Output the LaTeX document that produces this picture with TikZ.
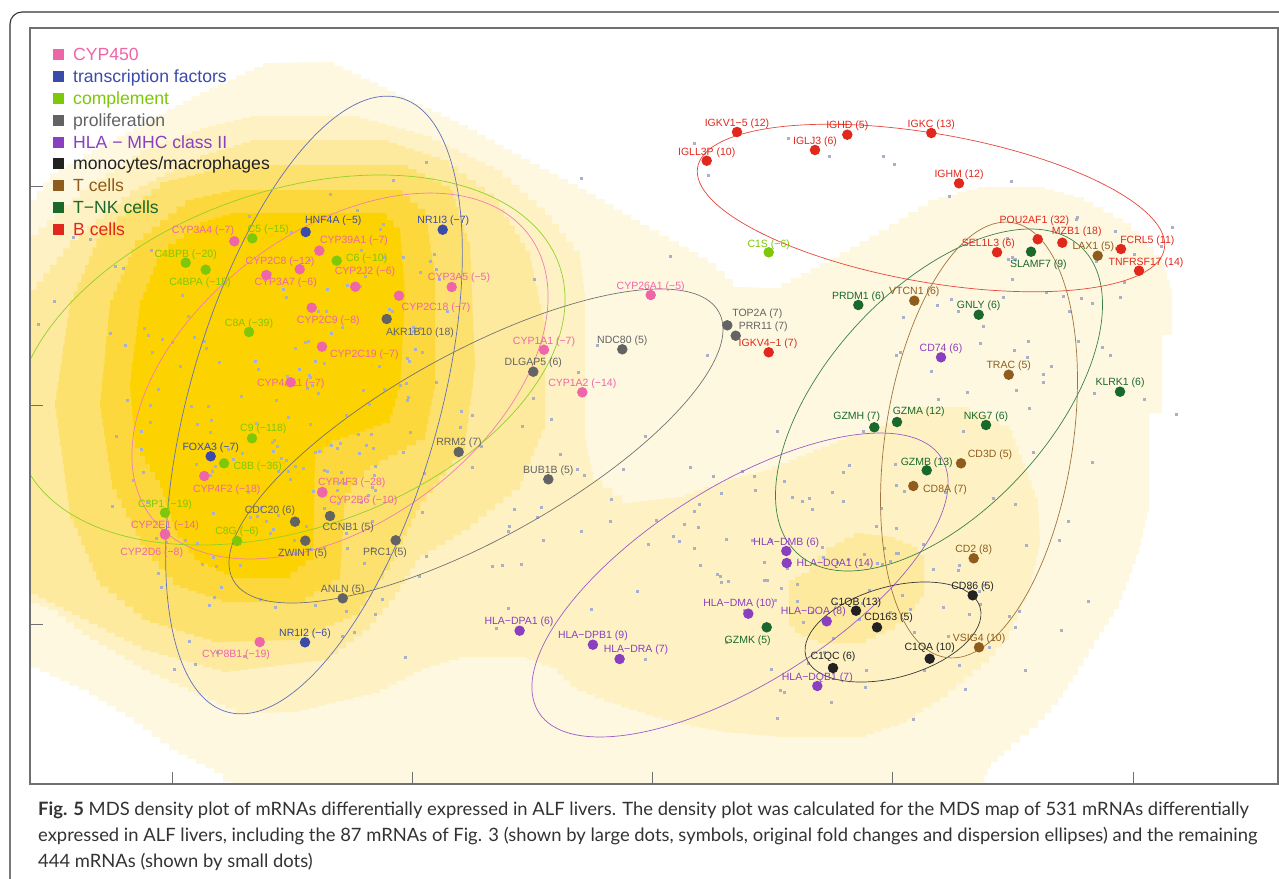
\documentclass[tikz,border=0pt]{standalone}
\usepackage{fontspec}
\setmainfont{Liberation Sans}
\newfontfamily\capfont{Lato}
\definecolor{cpink}{HTML}{EE66A8}
\definecolor{cblue}{HTML}{3B4BA9}
\definecolor{cgreen}{HTML}{7DC808}
\definecolor{cgray}{HTML}{636363}
\definecolor{cpurple}{HTML}{8A3FC0}
\definecolor{cblack}{HTML}{222222}
\definecolor{cbrown}{HTML}{8E5C1C}
\definecolor{cdkgreen}{HTML}{18692B}
\definecolor{cred}{HTML}{E0281C}
\definecolor{dA}{HTML}{FEF8E0}
\definecolor{dB}{HTML}{FEF2C4}
\definecolor{dC}{HTML}{FDEA9E}
\definecolor{dD}{HTML}{FDE16E}
\definecolor{dE}{HTML}{FCD83C}
\definecolor{dF}{HTML}{FCD200}
\definecolor{smd}{HTML}{A9B0CC}
\definecolor{capc}{HTML}{333333}
\definecolor{framec}{HTML}{707070}
\newcommand\genept[7]{%
  \node[lbl,text=#2] (l#1) at (#5,#6) {#7};
  \node[gdot,fill=#2] (d#1) at (#3,#4) {};
}
\newcommand\legitem[4]{%
  \node[lgsq,fill=#2] (sq#1) at (58.5,#3) {};
  \node[lgtxt,text=#2] (lg#1) at (73,#3) {#4};
}
\newcommand\stairfill[4]{%
  \fill[#1] (#2,#3)
  \foreach \x/\y [remember=\x as \px (initially #2), remember=\y as \py (initially #3),
      evaluate=\x as \k using {int(max(abs(\x-\px),abs(\y-\py))/10)+1}] in {#4} {
    \foreach \j [evaluate=\j as \sx using {\px+(\x-\px)*(\j/\k)},
                 evaluate=\j as \sy using {\py+(\y-\py)*(\j/\k)}] in {1,...,\k} { -| (\sx,\sy) }
  } -- cycle;
}
\begin{document}
\begin{tikzpicture}[x=1pt,y=-1pt,
  lbl/.style={font=\fontsize{10.5}{12}\selectfont, inner sep=0pt, anchor=base, yshift=-3.8pt},
  gdot/.style={circle, minimum size=10.5pt, inner sep=0pt, draw=none},
  lgsq/.style={rectangle, minimum size=11pt, inner sep=0pt, draw=none},
  lgtxt/.style={font=\fontsize{17.6}{20}\selectfont, inner sep=0pt, anchor=base west, yshift=-6pt},
  ell/.style={line width=0.7pt},
  captxt/.style={font=\capfont\fontsize{18.4}{22}\selectfont, text=capc, inner sep=0pt, anchor=base west}]
\useasboundingbox (0,0) rectangle (1279,878);
\fill[white] (0,0) rectangle (1279,878);
\begin{scope}
\clip (30,28) rectangle (1278,784);
% density levels
\stairfill{dA}{30}{200}{50/173, 100/145, 150/118, 200/92, 263/63, 326/62, 387/91, 459/125, 530/164, 587/194, 640/225, 708/263, 733/287, 772/288, 820/263, 879/230, 928/200, 977/187, 1035/187, 1074/197, 1123/223, 1162/263, 1172/297, 1172/335, 1162/335, 1162/413, 1149/414, 1149/511, 1139/555, 1129/582, 1119/609, 1099/640, 1078/675, 1058/705, 1038/728, 1011/750, 991/768, 981/790, 240/790, 223/773, 178/750, 134/717, 89/690, 30/663, 30/200}
\stairfill{dB}{30}{235}{80/190, 140/150, 200/128, 250/116, 351/116, 423/136, 494/170, 545/215, 580/260, 585/300, 585/440, 593/480, 622/503, 675/497, 724/480, 764/470, 805/453, 846/437, 887/423, 907/407, 960/407, 1009/430, 1022/463, 1038/507, 1040/547, 1030/593, 1009/640, 989/663, 948/697, 907/723, 866/737, 785/737, 730/732, 700/727, 653/715, 613/702, 577/687, 557/668, 527/657, 468/657, 430/668, 380/693, 300/712, 245/713, 150/670, 90/635, 58/610, 30/600, 30/235}
\stairfill{dC}{30}{290}{70/240, 130/190, 200/155, 250/140, 380/140, 440/160, 494/200, 530/260, 545/330, 545/430, 520/490, 470/530, 420/560, 395/600, 370/630, 330/660, 230/672, 150/650, 80/615, 30/590, 30/290}
\stairfill{dD}{70}{300}{100/230, 160/182, 230/165, 400/165, 450/190, 470/250, 475/370, 465/450, 420/510, 390/570, 360/615, 300/640, 220/642, 150/620, 100/580, 70/510, 55/400, 70/300}
\stairfill{dE}{110}{300}{135/240, 185/200, 230/190, 395/190, 425/215, 435/280, 435/390, 425/440, 370/470, 345/500, 340/580, 305/602, 230/602, 180/585, 145/545, 112/480, 100/400, 110/300}
\stairfill{dF}{140}{300}{160/250, 200/222, 230/213, 380/213, 400/235, 405/300, 400/390, 390/423, 340/440, 315/460, 313/560, 290/578, 240/578, 200/560, 177/530, 160/480, 135/440, 130/380, 140/300}
\stairfill{dC}{854}{533}{887/537, 911/547, 924/563, 924/597, 915/610, 895/630, 866/643, 826/643, 801/633, 789/620, 789/580, 801/573, 826/547, 854/533}
% small dots
\pgfmathsetseed{4217}
\foreach \n/\cx/\cy/\sx/\sy in {210/290/420/95/120, 95/880/580/95/70, 50/1030/330/70/60, 45/620/520/80/70, 10/780/200/110/55}{
  \foreach \i in {1,...,\n}{
    \pgfmathsetmacro\px{\cx+\sx*(rand+rand+rand)}
    \pgfmathsetmacro\py{\cy+\sy*(rand+rand+rand)}
    \fill[smd] (\px-1.5,\py-1.5) rectangle ++(3,3);
  }
}
% dispersion ellipses
\draw[ell,color=cpink!85] (340,376) [rotate around={36.7:(340,376)}] ellipse [x radius=235.7pt, y radius=145.6pt];
\draw[ell,color=cblue!80] (314,405) [rotate around={74.2:(314,405)}] ellipse [x radius=319pt, y radius=125pt];
\draw[ell,color=cgreen!85] (290,360) [rotate around={19.4:(290,360)}] ellipse [x radius=285.5pt, y radius=168.4pt];
\draw[ell,color=cgray!90] (476,446) [rotate around={28.9:(476,446)}] ellipse [x radius=277.4pt, y radius=93.3pt];
\draw[ell,color=cpurple!85] (740,585) [rotate around={32.3:(740,585)}] ellipse [x radius=238.2pt, y radius=98.2pt];
\draw[ell,color=cblack!90] (893,632) [rotate around={15.7:(893,632)}] ellipse [x radius=90.5pt, y radius=45.3pt];
\draw[ell,color=cred!85] (931,208) [rotate around={-9.9:(931,208)}] ellipse [x radius=236.9pt, y radius=74.3pt];
\draw[ell,color=cdkgreen!85] (939,400) [rotate around={47.3:(939,400)}] ellipse [x radius=208.8pt, y radius=111.2pt];
\draw[ell,color=cbrown!85] (979,440) [rotate around={81.35:(979,440)}] ellipse [x radius=220pt, y radius=93.8pt];
\end{scope}
% ticks and frame
\foreach \x in {172,412,652,892,1133} \draw[framec, line width=0.8pt] (\x,772) -- (\x,784);
\foreach \y in {186,405,624} \draw[framec, line width=0.8pt] (30,\y) -- (43,\y);
\draw[framec, line width=1.4pt] (30,28) rectangle (1278,784);
\draw[color=capc, line width=1.1pt, rounded corners=12pt] (10,882) -- (10,12) -- (1285,12);
% genes
\genept{CYPthreeAfour}{cpink}{234.3}{241.3}{203}{230}{CYP3A4 (−7)}
\genept{CYPthreeNineAone}{cpink}{319.3}{250.7}{354}{240}{CYP39A1 (−7)}
\genept{CYPtwoCeight}{cpink}{299.7}{269.3}{280}{260.7}{CYP2C8 (−12)}
\genept{CYPthreeAseven}{cpink}{266.3}{275}{285.7}{281.7}{CYP3A7 (−6)}
\genept{CYPtwoJtwo}{cpink}{355.3}{286.7}{365}{271}{CYP2J2 (−6)}
\genept{CYPthreeAfive}{cpink}{451.7}{287}{459}{277}{CYP3A5 (−5)}
\genept{CYPtwoCeighteen}{cpink}{399}{295.7}{436}{306.7}{CYP2C18 (−7)}
\genept{CYPtwoCnine}{cpink}{311.7}{307.7}{328.3}{319.3}{CYP2C9 (−8)}
\genept{CYPtwoCnineteen}{cpink}{322}{346.7}{364.3}{353.3}{CYP2C19 (−7)}
\genept{CYPfourAeleven}{cpink}{290.7}{382.3}{290.7}{382.7}{CYP4A11 (−7)}
\genept{CYPfourFtwo}{cpink}{204.3}{476}{226.7}{488.7}{CYP4F2 (−18)}
\genept{CYPfourFthree}{cpink}{322.3}{492}{351.7}{481.7}{CYP4F3 (−28)}
\genept{CYPtwoBsix}{cpink}{322.3}{492.5}{363.3}{499.7}{CYP2B6 (−10)}
\genept{CYPtwoEone}{cpink}{165}{534}{165}{524.3}{CYP2E1 (−14)}
\genept{CYPtwoDsix}{cpink}{165}{534.5}{151.7}{551.7}{CYP2D6 (−8)}
\genept{CYPeightBone}{cpink}{259.7}{642}{236}{653.3}{CYP8B1 (−19)}
\genept{CYPoneAone}{cpink}{544}{349.7}{544}{340.3}{CYP1A1 (−7)}
\genept{CYPoneAtwo}{cpink}{582.3}{392.3}{582.3}{382.7}{CYP1A2 (−14)}
\genept{CYPtwoSixAone}{cpink}{650.7}{295}{650.7}{285.3}{CYP26A1 (−5)}
\genept{HNFfourA}{cblue}{305.7}{232}{333.3}{220}{HNF4A (−5)}
\genept{NRoneIthree}{cblue}{442.7}{229.7}{443.3}{220}{NR1I3 (−7)}
\genept{FOXAthree}{cblue}{210.7}{456.3}{210.7}{446.7}{FOXA3 (−7)}
\genept{NRoneItwo}{cblue}{305}{642.3}{305}{632.7}{NR1I2 (−6)}
\genept{Cfive}{cgreen}{252.3}{238.3}{268.3}{228.3}{C5 (−15)}
\genept{CfourBPB}{cgreen}{185.7}{262.7}{185.7}{253.3}{C4BPB (−20)}
\genept{Csix}{cgreen}{336.7}{260.7}{366.7}{257.3}{C6 (−10)}
\genept{CfourBPA}{cgreen}{205.7}{269.7}{200}{281.7}{C4BPA (−18)}
\genept{CeightA}{cgreen}{249}{332}{249}{322.7}{C8A (−39)}
\genept{Cnine}{cgreen}{252}{438.3}{263.3}{427.7}{C9 (−118)}
\genept{CeightB}{cgreen}{224}{463.3}{257.7}{465.7}{C8B (−36)}
\genept{CthreePone}{cgreen}{165}{512.7}{165}{503.3}{C3P1 (−19)}
\genept{CeightG}{cgreen}{237}{541}{237}{531}{C8G (−6)}
\genept{ConeS}{cgreen}{768.7}{252.3}{768.7}{243.3}{C1S (−6)}
\genept{AKRoneBten}{cgray}{386.7}{319}{420}{331.7}{AKR1B10 (18)}
\genept{CDCtwenty}{cgray}{295}{521.7}{270}{509.3}{CDC20 (6)}
\genept{CCNBone}{cgray}{330}{516}{348.3}{526.7}{CCNB1 (5)}
\genept{ZWINT}{cgray}{305.3}{540.7}{302.7}{552.7}{ZWINT (5)}
\genept{PRCone}{cgray}{395.7}{540.3}{385}{552}{PRC1 (5)}
\genept{RRMtwo}{cgray}{458.7}{452}{459}{441.5}{RRM2 (7)}
\genept{ANLN}{cgray}{342.7}{598.3}{342.7}{588.7}{ANLN (5)}
\genept{TOPtwoA}{cgray}{727.3}{325.3}{757.3}{312.7}{TOP2A (7)}
\genept{PRRelevent}{cgray}{735.7}{335.7}{763.3}{325.3}{PRR11 (7)}
\genept{NDCeighty}{cgray}{622.3}{349.3}{622.3}{340}{NDC80 (5)}
\genept{DLGAPfive}{cgray}{533.3}{371.7}{533.3}{362}{DLGAP5 (6)}
\genept{BUBoneB}{cgray}{548.3}{479.3}{548.3}{470}{BUB1B (5)}
\genept{CDsevfour}{cpurple}{941}{357.3}{941}{347.7}{CD74 (6)}
\genept{HLADMB}{cpurple}{786.3}{551}{786.3}{541.3}{HLA−DMB (6)}
\genept{HLADQAone}{cpurple}{786.7}{563}{835}{562.3}{HLA−DQA1 (14)}
\genept{HLADMA}{cpurple}{748.3}{613.7}{739}{602.3}{HLA−DMA (10)}
\genept{HLADOA}{cpurple}{826.7}{621.3}{813.3}{611}{HLA−DOA (8)}
\genept{HLADQBone}{cpurple}{817.3}{686}{817.3}{676.7}{HLA−DQB1 (7)}
\genept{HLADPAone}{cpurple}{519.6}{630.7}{519}{620.7}{HLA−DPA1 (6)}
\genept{HLADPBone}{cpurple}{592.9}{644.7}{592.9}{635}{HLA−DPB1 (9)}
\genept{HLADRA}{cpurple}{619.6}{659}{636}{648.3}{HLA−DRA (7)}
\genept{CDeightysix}{cblack}{972.7}{595.3}{972.7}{585.7}{CD86 (5)}
\genept{ConeQB}{cblack}{856}{610.7}{856}{601.3}{C1QB (13)}
\genept{CDonesixthree}{cblack}{877}{627.3}{888.7}{617}{CD163 (5)}
\genept{ConeQA}{cblack}{929.7}{658.7}{929.7}{646.7}{C1QA (10)}
\genept{ConeQC}{cblack}{833}{668}{833}{656}{C1QC (6)}
\genept{VTCNone}{cbrown}{914.3}{300.7}{914.3}{291}{VTCN1 (6)}
\genept{LAXone}{cbrown}{1097.7}{255.7}{1093.3}{245.3}{LAX1 (5)}
\genept{TRAC}{cbrown}{1008.7}{374.7}{1008.7}{365}{TRAC (5)}
\genept{CDthreeD}{cbrown}{961}{463.3}{990}{453.3}{CD3D (5)}
\genept{CDeightA}{cbrown}{913.3}{486}{945}{489}{CD8A (7)}
\genept{CDtwo}{cbrown}{973.7}{558.3}{973.7}{549}{CD2 (8)}
\genept{VSIGfour}{cbrown}{979}{647.3}{979}{638}{VSIG4 (10)}
\genept{SLAMFseven}{cdkgreen}{1031}{251.7}{1038.3}{263.3}{SLAMF7 (9)}
\genept{PRDMone}{cdkgreen}{858.3}{305}{858.3}{295.3}{PRDM1 (6)}
\genept{GNLY}{cdkgreen}{978.7}{314.7}{978.7}{305}{GNLY (6)}
\genept{KLRKone}{cdkgreen}{1120}{391.7}{1120}{382}{KLRK1 (6)}
\genept{GZMH}{cdkgreen}{874.3}{427.3}{856.7}{416}{GZMH (7)}
\genept{GZMA}{cdkgreen}{897}{422}{918.7}{410.7}{GZMA (12)}
\genept{NKGseven}{cdkgreen}{986}{425}{986}{415.3}{NKG7 (6)}
\genept{GZMB}{cdkgreen}{926.7}{470.3}{926.7}{461.3}{GZMB (13)}
\genept{GZMK}{cdkgreen}{766.7}{627.3}{747.7}{639.3}{GZMK (5)}
\genept{IGKVonefive}{cred}{737}{132}{737}{122.7}{IGKV1−5 (12)}
\genept{IGHD}{cred}{847.3}{134.7}{847.3}{125}{IGHD (5)}
\genept{IGKC}{cred}{931.3}{133}{931.3}{123.3}{IGKC (13)}
\genept{IGLJthree}{cred}{815}{150}{815}{140.7}{IGLJ3 (6)}
\genept{IGLLthreeP}{cred}{706.7}{160.7}{706.7}{151.3}{IGLL3P (10)}
\genept{IGHM}{cred}{959}{183.3}{959}{174}{IGHM (12)}
\genept{POUtwoAFone}{cred}{1037.7}{239.3}{1034.3}{219.5}{POU2AF1 (32)}
\genept{MZBone}{cred}{1062.3}{242.7}{1076.7}{230.7}{MZB1 (18)}
\genept{SELoneLthree}{cred}{997}{252.3}{988.3}{242.7}{SEL1L3 (6)}
\genept{FCRLfive}{cred}{1121}{249}{1147.3}{239.3}{FCRL5 (11)}
\genept{TNFRSFseventeen}{cred}{1139}{270.7}{1146}{261.3}{TNFRSF17 (14)}
\genept{IGKVfourone}{cred}{768.7}{352.3}{768}{342.7}{IGKV4−1 (7)}
% legend
\legitem{a}{cpink}{54}{CYP450}
\legitem{b}{cblue}{76}{transcription factors}
\legitem{c}{cgreen}{98}{complement}
\legitem{d}{cgray}{120}{proliferation}
\legitem{e}{cpurple}{142}{HLA − MHC class II}
\legitem{f}{cblack}{163}{monocytes/macrophages}
\legitem{g}{cbrown}{185}{T cells}
\legitem{h}{cdkgreen}{207}{T−NK cells}
\legitem{i}{cred}{229}{B cells}
% caption
\node[captxt] (capA) at (38,815) {\textbf{Fig. 5} MDS density plot of mRNAs differentially expressed in ALF livers. The density plot was calculated for the MDS map of 531 mRNAs differentially};
\node[captxt] (capB) at (38,841) {expressed in ALF livers, including the 87 mRNAs of Fig. 3 (shown by large dots, symbols, original fold changes and dispersion ellipses) and the remaining};
\node[captxt] (capC) at (38,867) {444 mRNAs (shown by small dots)};
\end{tikzpicture}
\end{document}
